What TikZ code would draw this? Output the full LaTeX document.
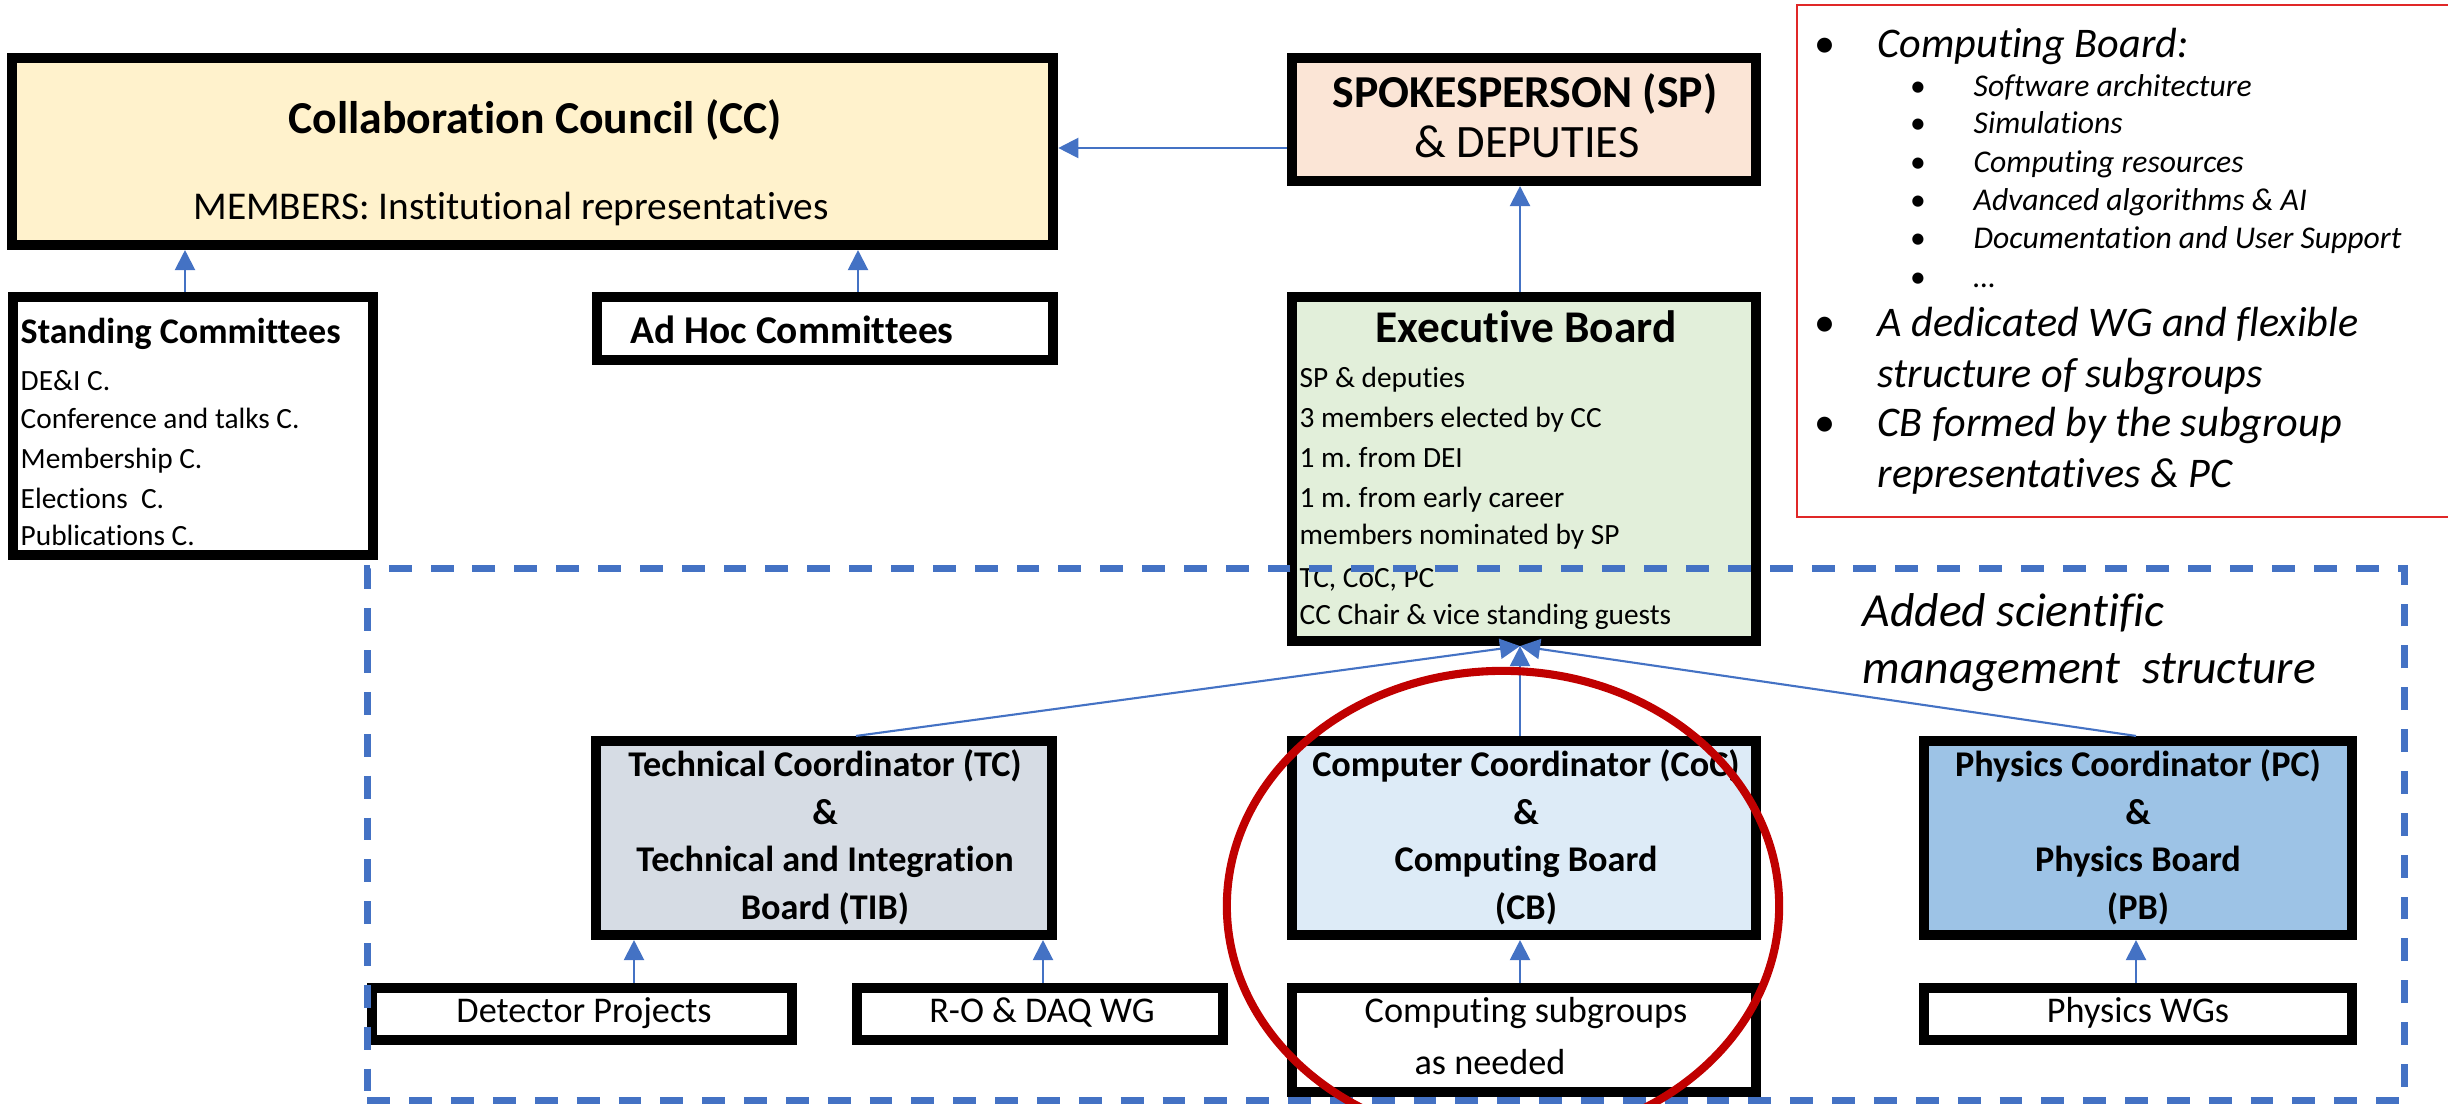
\documentclass[tikz,border=0pt]{standalone}
\usepackage{fontspec}
\setmainfont{Carlito}[Ligatures=NoCommon]
\usetikzlibrary{arrows.meta,shapes.geometric}

\definecolor{ccfill}{HTML}{FFF2CC}
\definecolor{spfill}{HTML}{FBE5D6}
\definecolor{ebfill}{HTML}{E2EFDA}
\definecolor{tcfill}{HTML}{D6DCE4}
\definecolor{cocfill}{HTML}{DDEBF7}
\definecolor{pcfill}{HTML}{9DC3E6}
\definecolor{linkblue}{HTML}{4472C4}
\definecolor{ringred}{HTML}{C00000}
\definecolor{noteframe}{HTML}{E02828}

\newcommand{\fs}[1]{\fontsize{#1}{#1}\selectfont}

\begin{document}
\frenchspacing
\begin{tikzpicture}[x=0.01cm, y=-0.01cm,
  frame/.style={draw=black, line width=2.85pt, inner sep=0pt, outer sep=1.42pt},
  link/.style={draw=linkblue, line width=0.6pt, -{Triangle[length=5.7pt,width=5.7pt]}},
  lbl/.style={inner sep=0pt, anchor=base},
  lbll/.style={inner sep=0pt, anchor=base west},
  boardtxt/.style={lbl, font=\bfseries\fs{10.3}},
  smalltxt/.style={lbll, font=\fs{8.35}},
  wgtxt/.style={lbl, font=\fs{10.3}},
  notebig/.style={lbll, font=\itshape\fs{12}},
  notesmall/.style={lbll, font=\itshape\fs{9}},
]
\useasboundingbox (0,0) rectangle (2448,1104);

% ---------- governance boxes ----------
\node[frame, fill=ccfill,  minimum width=10.41cm, minimum height=1.87cm] (cc)  at (532.5,151.5) {};
\node[frame, fill=spfill,  minimum width=4.64cm,  minimum height=1.23cm] (sp)  at (1524,119.5) {};
\node[frame, fill=white,   minimum width=3.60cm,  minimum height=2.58cm] (sc)  at (193,426) {};
\node[frame, fill=white,   minimum width=4.56cm,  minimum height=0.63cm] (ah)  at (825,328.5) {};
\node[frame, fill=ebfill,  minimum width=4.64cm,  minimum height=3.44cm] (eb)  at (1524,469) {};

% ---------- coordination boards ----------
\node[frame, fill=tcfill,  minimum width=4.56cm,  minimum height=1.94cm] (tc)  at (824,838) {};
\node[frame, fill=cocfill, minimum width=4.64cm,  minimum height=1.94cm] (coc) at (1524,838) {};
\node[frame, fill=pcfill,  minimum width=4.28cm,  minimum height=1.94cm] (pc)  at (2138,838) {};

% ---------- working groups ----------
\node[frame, fill=white, minimum width=4.20cm, minimum height=0.52cm] (dp) at (582,1014) {};
\node[frame, fill=white, minimum width=3.66cm, minimum height=0.52cm] (ro) at (1040,1014) {};
\node[frame, fill=white, minimum width=4.64cm, minimum height=1.04cm] (cs) at (1524,1040) {};
\node[frame, fill=white, minimum width=4.28cm, minimum height=0.52cm] (pw) at (2138,1014) {};

% ---------- box texts ----------
\node[lbl, font=\bfseries\fs{13}] (cct) at (535,134) {Collaboration Council (CC)};
\node[lbl, font=\fs{11.2}] (ccm) at (511,220) {MEMBERS: Institutional representatives};

\node[lbl, font=\bfseries\fs{13}] (spt) at (1525,108) {SPOKESPERSON (SP)};
\node[lbl, font=\fs{13.2}] (spd) at (1527,158) {\& DEPUTIES};

\node[lbll, font=\bfseries\fs{10.25}] (sct) at (20,344) {Standing Committees};
\foreach \t/\y [count=\i] in {{DE\&I C.}/391, {Conference and talks C.}/429,
    {Membership C.}/469, {Elections\ \ C.}/509, {Publications C.}/546}
  \node[smalltxt] (scl\i) at (20,\y) {\t};

\node[lbll, font=\bfseries\fs{11.2}] (aht) at (630,344) {Ad Hoc Committees};

\node[lbl, font=\bfseries\fs{12.9}] (ebt) at (1526,343) {Executive Board};
\foreach \t/\y [count=\i] in {{SP \& deputies}/388, {3 members elected by CC}/428,
    {1 m. from DEI}/468, {1 m. from early career}/508, {members nominated by SP}/545,
    {TC, CoC, PC}/588, {CC Chair \& vice standing guests}/625}
  \node[smalltxt] (ebl\i) at (1299,\y) {\t};

\foreach \t/\y [count=\i] in {{Technical Coordinator (TC)}/777, {\&}/825,
    {Technical and Integration}/872, {Board (TIB)}/920}
  \node[boardtxt] (tcl\i) at (825,\y) {\t};
\foreach \t/\y [count=\i] in {{Computer Coordinator (CoC)}/777, {\&}/825,
    {Computing Board}/872, {(CB)}/920}
  \node[boardtxt] (cocl\i) at (1526,\y) {\t};
\foreach \t/\y [count=\i] in {{Physics Coordinator (PC)}/777, {\&}/825,
    {Physics Board}/872, {(PB)}/920}
  \node[boardtxt] (pcl\i) at (2138,\y) {\t};

\node[wgtxt] (dpt) at (584,1023) {Detector Projects};
\node[wgtxt] (rot) at (1042,1023) {R-O \& DAQ WG};
\node[wgtxt] (cst1) at (1526,1023) {Computing subgroups};
\node[wgtxt] (cst2) at (1490,1075) {as needed};
\node[wgtxt] (pwt) at (2138,1023) {Physics WGs};

% ---------- scientific management frame ----------
\node[draw=linkblue, line width=2pt, dash pattern=on 6.5pt off 5.4pt,
      minimum width=20.36cm, minimum height=5.31cm, inner sep=0pt] (mgmt) at (1386,834.5) {};
\node[lbll, font=\itshape\fs{13.5}] (mg1) at (1862,627) {Added scientific};
\node[lbll, font=\itshape\fs{13.5}] (mg2) at (1862,684) {management\ \ structure};

% ---------- connectors ----------
\coordinate (yA)  at (0,148);
\coordinate (xSC) at (185,0);
\coordinate (xAH) at (858,0);
\coordinate (xMid) at (1520,0);
\coordinate (xTC) at (856,0);
\coordinate (xPC) at (2136,0);
\coordinate (xDP) at (634,0);
\coordinate (xRO) at (1043,0);

\draw[link] (sp.west |- yA) -- (cc.east |- yA);
\draw[link] (sc.north -| xSC) -- (cc.south -| xSC);
\draw[link] (ah.north -| xAH) -- (cc.south -| xAH);
\draw[link] (eb.north -| xMid) -- (sp.south -| xMid);
\draw[link] (tc.north -| xTC) -- (eb.south -| xMid);
\draw[link] (coc.north -| xMid) -- (eb.south -| xMid);
\draw[link] (pc.north -| xPC) -- (eb.south -| xMid);
\draw[link] (dp.north -| xDP) -- (tc.south -| xDP);
\draw[link] (ro.north -| xRO) -- (tc.south -| xRO);
\draw[link] (cs.north -| xMid) -- (coc.south -| xMid);
\draw[link] (pw.north -| xPC) -- (pc.south -| xPC);

% ---------- highlight ring ----------
\node[draw=ringred, line width=2.3pt, ellipse, inner sep=0pt,
      minimum width=5.52cm, minimum height=4.70cm] (focus) at (1503,906) {};

% ---------- computing board notes ----------
\node[draw=noteframe, line width=0.6pt, inner sep=0pt,
      minimum width=6.6cm, minimum height=5.12cm] (notes) at (2127,261) {};
\foreach \y [count=\i] in {58,337,437}
  \node[lbl, font=\fs{12}] (nb\i) at (1825,\y) {•};
\node[notebig] (n1) at (1877,58)  {Computing Board:};
\node[notebig] (n2) at (1877,337) {A dedicated WG and flexible};
\node[notebig] (n3) at (1877,388) {structure of subgroups};
\node[notebig] (n4) at (1877,437) {CB formed by the subgroup};
\node[notebig] (n5) at (1877,488) {representatives \& PC};
\foreach \t/\y [count=\i] in {{Software architecture}/97, {Simulations}/134,
    {Computing resources}/173, {Advanced algorithms \& AI}/211,
    {Documentation and User Support}/249, {…}/288}
{
  \node[lbl, font=\fs{9}] (sb\i) at (1918,\y) {•};
  \node[notesmall] (s\i) at (1973,\y) {\t};
}
\end{tikzpicture}
\end{document}
